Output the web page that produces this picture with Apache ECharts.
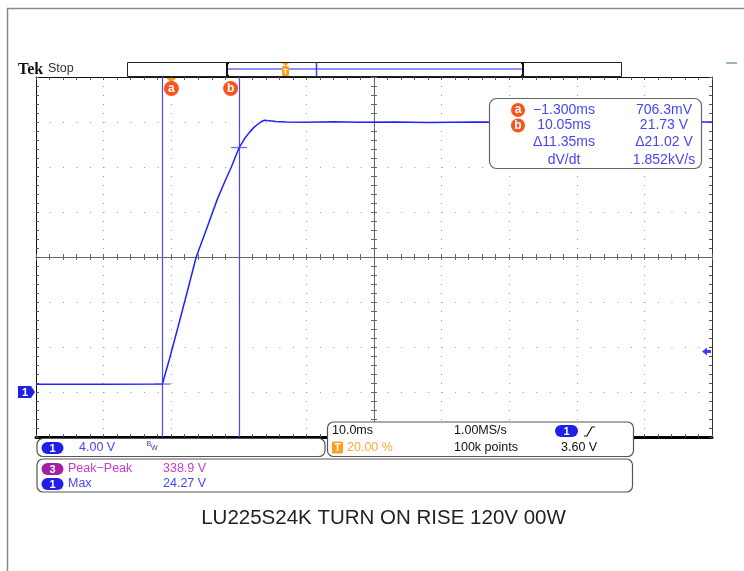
<!DOCTYPE html>
<html>
<head>
<meta charset="utf-8">
<script src="https://cdn.jsdelivr.net/npm/echarts@6/dist/echarts.min.js"></script>
<style>
html,body{margin:0;padding:0;background:#fff;}
#c{width:744px;height:571px;}
</style>
</head>
<body>
<div id="c"></div>
<script>
// ---------------- data ----------------
const timeMs = [-20, -10, -1.3, -0.3, 1.0, 2.5, 3.7, 5.2, 6.8, 8.0, 8.9, 10.05, 11.0, 11.6, 12.2, 12.8, 13.3, 13.8, 14.5, 15.5, 17, 20, 24, 28, 33, 38, 45, 52, 60, 68, 75, 80];
const voltsV = [0.70, 0.70, 0.71, 2.84, 5.75, 9.2, 12.0, 14.45, 17.1, 18.8, 20.0, 21.73, 22.65, 23.1, 23.5, 23.8, 24.02, 24.15, 24.12, 24.05, 24.0, 23.98, 24.02, 23.97, 24.0, 23.96, 24.01, 23.98, 24.02, 23.97, 24.0, 24.0];
const cursorTimes = [-1.300, 10.05];
const cursorVolts = [0.7063, 21.73];
const cursorNames = ['a', 'b'];
const triggerTimeMs = 0;
const triggerLevelV = 3.60;
const timeRange = [-20, 80];     // 10 ms/div, trigger at 20 %
const voltRange = [-4, 28];      // 4 V/div, ground 3 div below centre
const readoutLeft = ['\u22121.300ms', '10.05ms', '\u039411.35ms', 'dV/dt'];
const readoutRight = ['706.3mV', '21.73 V', '\u039421.02 V', '1.852kV/s'];
const chanScale = '4.00 V';
const timebase = ['10.0ms', '1.00MS/s', '20.00 %', '100k points', '3.60 V'];
const measNames = ['Peak\u2212Peak', 'Max'];
const measValues = ['338.9 V', '24.27 V'];
const titleText = 'LU225S24K TURN ON RISE 120V 00W';

// ---------------- chart ----------------
const FONT = '"Liberation Sans", Arial, sans-serif';
const BLUE_TXT = '#4646f5';
const TRACE = '#2222ff';
const CUR = '#4848f4';
const G = {left: 36, top: 77, width: 676, height: 360};
const chart = echarts.init(document.getElementById('c'), null, {renderer: 'canvas'});

function gratX(idx, pos, opts) {
  return Object.assign({
    type: 'value', gridIndex: idx, position: pos, min: -5, max: 5, interval: 1,
    axisLabel: {show: false}, splitLine: {show: false},
    axisLine: {onZero: false, lineStyle: {color: '#111', width: 1}},
    axisTick: {show: true, inside: true, length: 3, lineStyle: {color: '#555', width: 1}},
    minorTick: {show: true, splitNumber: 5, length: 3, lineStyle: {color: '#555', width: 1}},
    silent: true
  }, opts || {});
}
function gratY(idx, pos, opts) {
  return Object.assign({
    type: 'value', gridIndex: idx, position: pos, min: -4, max: 4, interval: 1,
    axisLabel: {show: false}, splitLine: {show: false},
    axisLine: {onZero: false, lineStyle: {color: '#111', width: 1}},
    axisTick: {show: true, inside: true, length: 3, lineStyle: {color: '#555', width: 1}},
    minorTick: {show: true, splitNumber: 5, length: 3, lineStyle: {color: '#555', width: 1}},
    silent: true
  }, opts || {});
}

const option = {
  animation: false,
  backgroundColor: '#fff',
  title: {
    text: titleText, left: 378.5, top: 503, textAlign: 'center',
    textStyle: {fontFamily: FONT, fontSize: 20.5, fontWeight: 'normal', color: '#222'}
  },
  grid: [
    Object.assign({}, G, {show: false}),
    Object.assign({}, G, {show: false}),
    Object.assign({}, G, {show: false}),
    Object.assign({}, G, {show: false})
  ],
  xAxis: [
    {type: 'value', gridIndex: 0, min: timeRange[0], max: timeRange[1], show: false},
    gratX(1, 'bottom', {
      axisLine: {onZero: false, lineStyle: {color: '#000', width: 3}},
      splitLine: {show: true, lineStyle: {color: '#9a9a9a', width: 1, type: [1, 8]}}
    }),
    gratX(1, 'top'),
    gratX(2, 'bottom', {axisLine: {onZero: true, lineStyle: {color: '#666', width: 1}},
      axisTick: {show: true, inside: false, length: 3, lineStyle: {color: '#666'}},
      minorTick: {show: true, splitNumber: 5, length: 3, lineStyle: {color: '#666'}}}),
    gratX(3, 'bottom', {axisLine: {onZero: true, lineStyle: {color: '#666', width: 1}},
      axisTick: {show: true, inside: true, length: 3, lineStyle: {color: '#666'}},
      minorTick: {show: true, splitNumber: 5, length: 3, lineStyle: {color: '#666'}}})
  ],
  yAxis: [
    {type: 'value', gridIndex: 0, min: voltRange[0], max: voltRange[1], show: false},
    gratY(1, 'left', {
      splitLine: {show: true, lineStyle: {color: '#9a9a9a', width: 1, type: [1, 12.52]}}
    }),
    gratY(1, 'right', {axisLine: {onZero: false, lineStyle: {color: '#333', width: 1}}}),
    gratY(2, 'left', {axisLine: {onZero: true, lineStyle: {color: '#666', width: 1}},
      axisTick: {show: true, inside: false, length: 3, lineStyle: {color: '#666'}},
      minorTick: {show: true, splitNumber: 5, length: 3, lineStyle: {color: '#666'}}}),
    gratY(3, 'left', {axisLine: {onZero: true, lineStyle: {color: '#666', width: 1}},
      axisTick: {show: true, inside: true, length: 3, lineStyle: {color: '#666'}},
      minorTick: {show: true, splitNumber: 5, length: 3, lineStyle: {color: '#666'}}})
  ],
  series: [
    {
      type: 'line', xAxisIndex: 0, yAxisIndex: 0, z: 5,
      data: timeMs.map((t, i) => [t, voltsV[i]]),
      showSymbol: false, symbol: 'none', smooth: false,
      lineStyle: {color: TRACE, width: 1.5},
      markLine: {
        silent: true, symbol: 'none', label: {show: false}, animation: false, z: 4,
        lineStyle: {color: CUR, width: 1.2, type: 'solid', opacity: 1},
        data: cursorTimes.map(t => ({xAxis: t}))
      }
    },
    {
      type: 'scatter', xAxisIndex: 0, yAxisIndex: 0, z: 6, silent: true,
      data: cursorTimes.map((t, i) => [t, cursorVolts[i]]),
      symbol: 'rect', symbolSize: [16, 1.3],
      itemStyle: {color: CUR}
    }
  ]
};
chart.setOption(option);

// ---------------- overlay decorations ----------------
const px = (t, v) => chart.convertToPixel({xAxisIndex: 0, yAxisIndex: 0}, [t, v]);
const g = [];
function txt(x, y, s, o) {
  o = o || {};
  g.push({type: 'text', z: o.z || 50, style: {
    text: s, x: x, y: y, fill: o.fill || '#111',
    font: o.font || ('12px ' + FONT),
    textAlign: o.align || 'left', textVerticalAlign: 'middle'
  }});
}
function rect(x, y, w, h, r, fill, stroke, lw, z) {
  g.push({type: 'rect', z: z || 40, shape: {x: x, y: y, width: w, height: h, r: r},
    style: {fill: fill, stroke: stroke || null, lineWidth: lw || 1}});
}
function line(x1, y1, x2, y2, color, lw, z) {
  g.push({type: 'line', z: z || 45, shape: {x1: x1, y1: y1, x2: x2, y2: y2},
    style: {stroke: color, lineWidth: lw || 1}});
}
function poly(points, fill, z) {
  g.push({type: 'polygon', z: z || 45, shape: {points: points}, style: {fill: fill}});
}
function badge(x, y, w, h, fill, s) {
  rect(x, y, w, h, h / 2, fill, null, 1, 48);
  txt(x + w / 2, y + h / 2 + 0.5, s, {fill: '#fff', align: 'center', font: 'bold 11px ' + FONT, z: 49});
}
function circ(cx, cy, r, fill, s) {
  g.push({type: 'circle', z: 48, shape: {cx: cx, cy: cy, r: r}, style: {fill: fill}});
  txt(cx, cy, s, {fill: '#fff', align: 'center', font: 'bold 12px ' + FONT, z: 49});
}

// outer frame
line(7, 8.5, 744, 8.5, '#8a8a8a', 1.5);
line(7.5, 8, 7.5, 571, '#8a8a8a', 1.5);
line(726, 63, 737, 63, '#7f9f9f', 1.5);

// Tek Stop
txt(18, 69.5, 'Tek', {font: 'bold 16px "Liberation Serif", "DejaVu Serif", serif', fill: '#111'});
txt(48, 69, 'Stop', {font: '12.5px ' + FONT, fill: '#333'});

// record bar
rect(127.5, 62.5, 494, 14, 0, '#fff', '#222', 1, 40);
line(228, 69, 523, 69, '#9090ff', 2);
line(316.5, 62.5, 316.5, 76.5, '#3c3cff', 1.5);
[227, 523].forEach((x, i) => {
  line(x, 63, x, 76, '#111', 2);
  const d = i === 0 ? 2 : -2;
  line(x, 63.5, x + d, 63.5, '#111', 1.5);
  line(x, 75.5, x + d, 75.5, '#111', 1.5);
});
poly([[282, 63], [289, 63], [285.5, 66]], '#ff9d1e', 46);
rect(282, 66, 7, 10, 1.5, '#ff9d1e', null, 1, 46);
txt(285.5, 71.5, 'T', {fill: '#fff', align: 'center', font: 'bold 8px ' + FONT, z: 47});

// trigger time marker (t = 0) on top edge
const trigX = px(triggerTimeMs, 0)[0];
poly([[trigX - 5, 78], [trigX + 5, 78], [trigX, 83]], '#ff9d1e', 46);

// cursor markers
const cA = px(cursorTimes[0], cursorVolts[0]);
const cB = px(cursorTimes[1], cursorVolts[1]);
circ(cA[0] + 9, 88.5, 7.5, '#f4561c', cursorNames[0]);
circ(cB[0] - 8.5, 88.5, 7.5, '#f4561c', cursorNames[1]);

// ground marker for channel 1
const gnd = px(timeRange[0], 0);
poly([[18, gnd[1] - 6], [31, gnd[1] - 6], [35, gnd[1]], [31, gnd[1] + 6], [18, gnd[1] + 6]], '#1f1fe8', 46);
txt(25, gnd[1] + 0.5, '1', {fill: '#fff', align: 'center', font: 'bold 11px ' + FONT, z: 47});

// trigger level arrow
const tl = px(timeRange[1], triggerLevelV);
poly([[tl[0] - 10, tl[1]], [tl[0] - 5, tl[1] - 4], [tl[0] - 5, tl[1] - 1.5], [tl[0] - 1, tl[1] - 1.5],
      [tl[0] - 1, tl[1] + 1.5], [tl[0] - 5, tl[1] + 1.5], [tl[0] - 5, tl[1] + 4]], '#3c3cff', 46);

// cursor readout box
rect(489.5, 98.5, 212, 70, 7, '#fff', '#666', 1.2, 40);
const rows = [110, 125.5, 142.5, 160];
circ(518, rows[0], 7, '#f4561c', 'a');
circ(518, rows[1], 7, '#f4561c', 'b');
readoutLeft.forEach((s, i) => txt(564, rows[i], s, {fill: BLUE_TXT, align: 'center', font: '14px ' + FONT}));
readoutRight.forEach((s, i) => txt(664, rows[i], s, {fill: BLUE_TXT, align: 'center', font: '14px ' + FONT}));

// timebase box
rect(327.5, 422, 306, 34.5, 6, '#fff', '#555', 1.2, 40);
txt(332, 431, timebase[0], {font: '12.5px ' + FONT, fill: '#111'});
txt(454, 431, timebase[1], {font: '12.5px ' + FONT, fill: '#111'});
badge(555, 425, 23, 12, '#1f1fe8', '1');
g.push({type: 'polyline', z: 47, shape: {points: [[584, 436], [587, 436], [592, 427], [595, 427]]},
  style: {stroke: '#111', lineWidth: 1.2, fill: null}});
rect(332, 441.5, 11, 12, 1.5, '#ff9d1e', null, 1, 48);
txt(337.5, 448, 'T', {fill: '#fff', align: 'center', font: 'bold 10px ' + FONT, z: 49});
txt(347, 448, timebase[2], {font: '12.5px ' + FONT, fill: '#ffa832'});
txt(454, 448, timebase[3], {font: '12.5px ' + FONT, fill: '#111'});
txt(561, 448, timebase[4], {font: '12.5px ' + FONT, fill: '#111'});

// channel box
rect(37, 438.5, 288, 18, 6, '#fff', '#555', 1.2, 40);
badge(41.5, 442, 22, 12, '#1f1fe8', '1');
txt(79, 447.5, chanScale, {font: '12.5px ' + FONT, fill: BLUE_TXT});
txt(146.5, 444.5, 'B', {font: '7px ' + FONT, fill: '#3a3ac8'});
txt(151, 448.5, 'W', {font: '7px ' + FONT, fill: '#3a3ac8'});

// measurement box
rect(37, 459, 595.5, 33, 6, '#fff', '#555', 1.2, 40);
badge(41.5, 463, 22, 12, '#a31fa3', '3');
txt(68, 469, measNames[0], {font: '12.5px ' + FONT, fill: '#c63cc6'});
txt(163, 469, measValues[0], {font: '12.5px ' + FONT, fill: '#c63cc6'});
badge(41.5, 478, 22, 12, '#1f1fe8', '1');
txt(68, 484, measNames[1], {font: '12.5px ' + FONT, fill: BLUE_TXT});
txt(163, 484, measValues[1], {font: '12.5px ' + FONT, fill: BLUE_TXT});

chart.setOption({graphic: {elements: g}});
</script>
</body>
</html>
